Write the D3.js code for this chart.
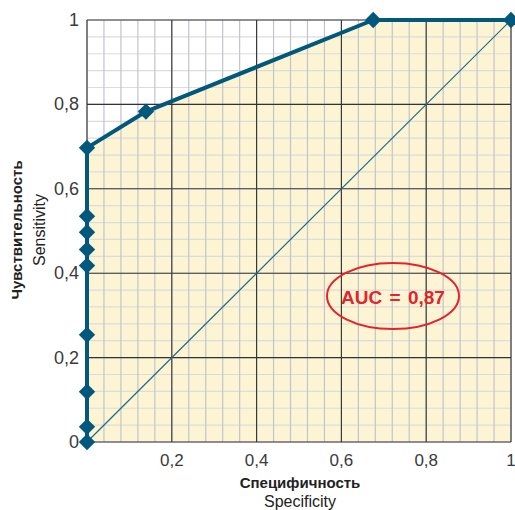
<!DOCTYPE html>
<html>
<head>
<meta charset="utf-8">
<script src="https://cdn.jsdelivr.net/npm/d3@7"></script>
<style>
  body { margin: 0; background: #fff; }
  text { font-family: "Liberation Sans Narrow", "Liberation Sans", sans-serif; }
</style>
</head>
<body>
<svg id="chart" width="515" height="510"></svg>
<script>
// ROC curve points (x as drawn on the axis, y = sensitivity)
var rocX = [0, 0, 0, 0, 0, 0, 0, 0, 0, 0.139, 0.675, 1];
var rocY = [0, 0.036, 0.119, 0.254, 0.418, 0.456, 0.497, 0.535, 0.697, 0.783, 1, 1];
var xTickLabels = ["0,2", "0,4", "0,6", "0,8", "1"];
var xTickValues = [0.2, 0.4, 0.6, 0.8, 1];
var yTickLabels = ["0", "0,2", "0,4", "0,6", "0,8", "1"];
var yTickValues = [0, 0.2, 0.4, 0.6, 0.8, 1];
var aucLabel = "AUC = 0,87";

(function () {
    var svg = d3.select("#chart"),
        // plot box in pixels
        plotLeft = 87, plotRight = 511, plotTop = 20, plotBottom = 442,
        x = d3.scaleLinear().domain([0, 1]).range([plotLeft, plotRight]),
        y = d3.scaleLinear().domain([0, 1]).range([plotBottom, plotTop]),
        points = rocX.map(function (d, i) { return [d, rocY[i]]; }),
        minor = d3.range(0, 1.0001, 0.04);

    // Area under the curve
    var area = d3.area()
        .x(function (d) { return x(d[0]); })
        .y0(y(0))
        .y1(function (d) { return y(d[1]); });
    svg.append("path")
        .datum(points)
        .attr("d", area)
        .style("fill", "#fdf4d4");

    // Minor grid
    svg.append("g").selectAll("line").data(minor).enter().append("line")
        .attr("x1", plotLeft).attr("x2", plotRight)
        .attr("y1", function (d) { return y(d); }).attr("y2", function (d) { return y(d); })
        .style("stroke", "#dcdcdc").style("stroke-width", 1.2);
    svg.append("g").selectAll("line").data(minor).enter().append("line")
        .attr("y1", plotTop).attr("y2", plotBottom)
        .attr("x1", function (d) { return x(d); }).attr("x2", function (d) { return x(d); })
        .style("stroke", "#c2c4cc").style("stroke-width", 1.2);

    // Major grid
    svg.append("g").selectAll("line").data(yTickValues).enter().append("line")
        .attr("x1", plotLeft).attr("x2", plotRight)
        .attr("y1", function (d) { return y(d); }).attr("y2", function (d) { return y(d); })
        .style("stroke", "#333").style("stroke-width", 1.1);
    svg.append("g").selectAll("line").data([0].concat(xTickValues)).enter().append("line")
        .attr("y1", plotTop).attr("y2", plotBottom)
        .attr("x1", function (d) { return x(d); }).attr("x2", function (d) { return x(d); })
        .style("stroke", "#333").style("stroke-width", 1.1);

    // Diagonal reference line
    svg.append("line")
        .attr("x1", x(0)).attr("y1", y(0))
        .attr("x2", x(1)).attr("y2", y(1))
        .style("stroke", "#1d6a8a").style("stroke-width", 1.2);

    // ROC curve
    var line = d3.line()
        .x(function (d) { return x(d[0]); })
        .y(function (d) { return y(d[1]); });
    svg.append("path")
        .datum(points)
        .attr("d", line)
        .style("fill", "none")
        .style("stroke", "#00587c")
        .style("stroke-width", 4)
        .style("stroke-linejoin", "round");

    // Diamond markers
    svg.append("g").selectAll("path").data(points).enter().append("path")
        .attr("d", d3.symbol().type(d3.symbolDiamond2).size(170))
        .attr("transform", function (d) { return "translate(" + x(d[0]) + "," + y(d[1]) + ")"; })
        .style("fill", "#00587c");

    // Tick labels
    svg.append("g").selectAll("text").data(xTickValues).enter().append("text")
        .attr("x", function (d) { return x(d); })
        .attr("y", 466)
        .attr("text-anchor", "middle")
        .style("font-size", "17px")
        .style("fill", "#3a3a3a")
        .text(function (d, i) { return xTickLabels[i]; });
    svg.append("g").selectAll("text").data(yTickValues).enter().append("text")
        .attr("x", 79)
        .attr("y", function (d) { return y(d) + 6; })
        .attr("text-anchor", "end")
        .style("font-size", "18px")
        .style("fill", "#3a3a3a")
        .text(function (d, i) { return yTickLabels[i]; });

    // Axis titles
    svg.append("text")
        .attr("x", 300).attr("y", 488)
        .attr("text-anchor", "middle")
        .style("font-size", "15px").style("font-weight", "bold").style("fill", "#222")
        .text("Специфичность");
    svg.append("text")
        .attr("x", 300).attr("y", 507)
        .attr("text-anchor", "middle")
        .style("font-size", "16px").style("fill", "#222")
        .text("Specificity");
    svg.append("text")
        .attr("transform", "translate(22,230) rotate(-90)")
        .attr("text-anchor", "middle")
        .style("font-size", "15px").style("font-weight", "bold").style("fill", "#222")
        .text("Чувствительность");
    svg.append("text")
        .attr("transform", "translate(45,230) rotate(-90)")
        .attr("text-anchor", "middle")
        .style("font-size", "16px").style("fill", "#222")
        .text("Sensitivity");

    // AUC annotation
    svg.append("ellipse")
        .attr("cx", 393).attr("cy", 296)
        .attr("rx", 66).attr("ry", 33)
        .style("fill", "none")
        .style("stroke", "#e3242b")
        .style("stroke-width", 2);
    svg.append("text")
        .attr("x", 393).attr("y", 304)
        .attr("text-anchor", "middle")
        .style("font-family", "'Liberation Sans', Arial, sans-serif")
        .style("font-size", "19px").style("font-weight", "bold").style("fill", "#e3242b")
        .style("word-spacing", "2px")
        .text(aucLabel);
})();
</script>
</body>
</html>
